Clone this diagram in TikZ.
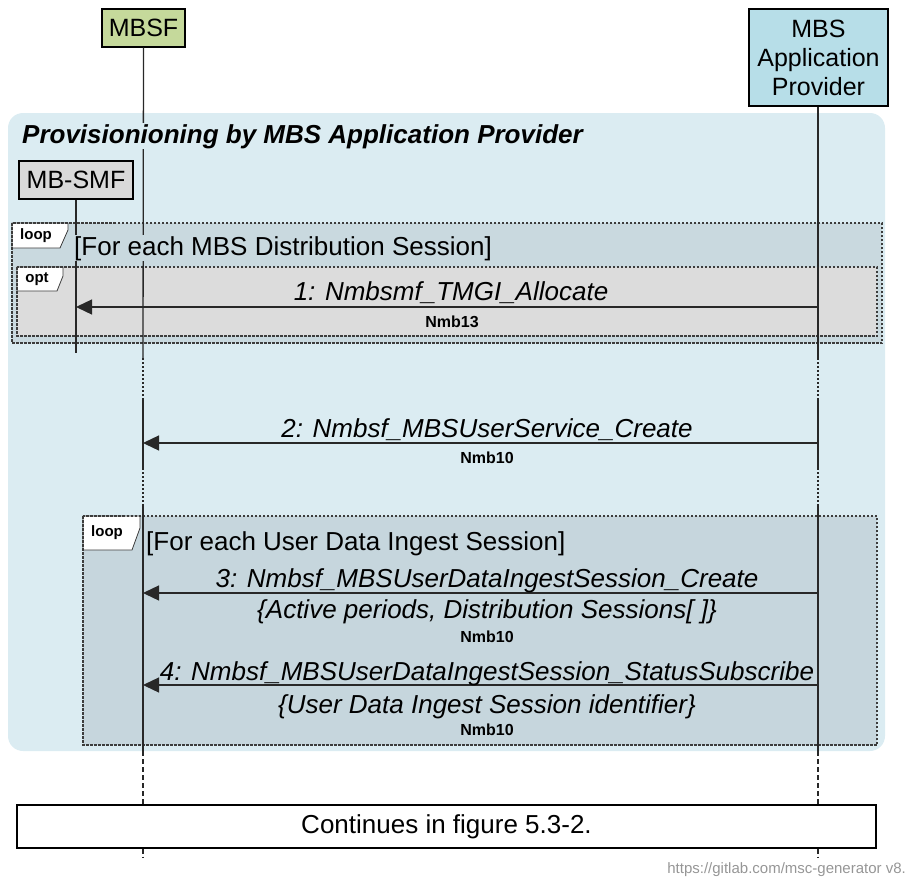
\documentclass[tikz,border=0pt]{standalone}
\usepackage{fontspec}
\setmainfont{Liberation Sans}
\usetikzlibrary{arrows.meta}
\definecolor{grpfill}{RGB}{219,236,242}
\definecolor{loopfill}{RGB}{201,217,223}
\definecolor{loopfillb}{RGB}{198,214,221}
\definecolor{optfill}{RGB}{220,220,220}
\definecolor{mbsffill}{RGB}{197,217,155}
\definecolor{provfill}{RGB}{183,222,232}
\definecolor{smffill}{RGB}{217,217,217}
\definecolor{linecol}{RGB}{40,40,40}
\definecolor{framecol}{RGB}{60,60,60}
\begin{document}
\begin{tikzpicture}[x=1pt,y=-1pt,
  entity/.style={draw=black, line width=1.2pt, inner sep=0pt, align=center,
    font=\fontsize{25}{29}\selectfont},
  life/.style={draw=linecol, line width=1.3pt},
  lifedot/.style={life, dash pattern=on 2pt off 2pt},
  lifedash/.style={life, dash pattern=on 5pt off 3pt},
  frame/.style={draw=framecol, line width=1.2pt, dash pattern=on 2.5pt off 1.5pt},
  tagbox/.style={fill=white, draw=framecol, line width=0.8pt},
  tagtext/.style={font=\fontsize{15}{18}\selectfont\bfseries, inner sep=0pt},
  hdr/.style={font=\fontsize{26}{30}\selectfont, anchor=base west, inner sep=1pt},
  msglabel/.style={font=\fontsize{26}{30}\selectfont\itshape, anchor=base, inner sep=0pt},
  nmb/.style={font=\fontsize{16}{19}\selectfont\bfseries, inner sep=0pt},
  msgarrow/.style={draw=linecol, line width=1.3pt, -{Triangle[length=16pt,width=15pt]}}
]
\useasboundingbox (0,0) rectangle (908,883);

% group background
\fill[grpfill, rounded corners=15pt] (8,113) rectangle (885,751);

% frames (fills)
\fill[loopfill] (12,223) rectangle (882,343);
\fill[optfill] (17,267) rectangle (877,336);
\fill[loopfillb] (83,516) rectangle (877,745);

% frame tags
\draw[tagbox] (12,223) -- (68,223) -- (68,230) -- (60,248) -- (12,248) -- cycle;
\draw[tagbox] (17,267) -- (63,267) -- (63,276) -- (57,291) -- (17,291) -- cycle;
\draw[tagbox] (83,516) -- (140,516) -- (140,528) -- (132,550) -- (83,550) -- cycle;

% frame borders
\draw[frame] (12,223) rectangle (882,343);
\draw[frame] (17,267) rectangle (877,336);
\draw[frame] (83,516) rectangle (877,745);

\node[tagtext] (tagloopa) at (36,236) {loop};
\node[tagtext] (tagopt) at (37,279) {opt};
\node[tagtext] (tagloopb) at (107,533) {loop};

% entities
\node[entity, fill=mbsffill, minimum width=83pt, minimum height=38pt] (mbsf) at (143.5,28) {MBSF};
\node[entity, fill=provfill, minimum width=139pt, minimum height=97pt] (prov) at (818.5,57.5) {MBS\\Application\\Provider};
\node[entity, fill=smffill, minimum width=114pt, minimum height=38pt] (smf) at (76,180) {MB-SMF};

% lifeline coordinates
\coordinate (mA) at (143,358); \coordinate (mB) at (143,400); \coordinate (mC) at (143,468);
\coordinate (mD) at (143,505); \coordinate (mE) at (143,751); \coordinate (mF) at (143,858);
\coordinate (pA) at (818,358); \coordinate (pB) at (818,400); \coordinate (pC) at (818,468);
\coordinate (pD) at (818,505); \coordinate (pE) at (818,751); \coordinate (pF) at (818,858);
\coordinate (sEnd) at (76,353);

% continue box
\node[draw=black, line width=1.2pt, fill=white, minimum width=859pt, minimum height=43pt,
  inner sep=0pt, font=\fontsize{26}{30}\selectfont] (cont) at (446.5,826.5) {Continues in figure 5.3-2.};

% lifelines
\draw[life] (mbsf.south) -- (mA);
\draw[lifedot] (mA) -- (mB);
\draw[life] (mB) -- (mC);
\draw[lifedot] (mC) -- (mD);
\draw[life] (mD) -- (mE);
\draw[lifedash] (mE) -- (mE |- cont.north);
\draw[lifedash] (mE |- cont.south) -- (mF);
\draw[life] (prov.south -| pA) -- (pA);
\draw[lifedot] (pA) -- (pB);
\draw[life] (pB) -- (pC);
\draw[lifedot] (pC) -- (pD);
\draw[life] (pD) -- (pE);
\draw[lifedash] (pE) -- (pE |- cont.north);
\draw[lifedash] (pE |- cont.south) -- (pF);
\draw[life] (smf.south) -- (sEnd);

% title and headers
\node[font=\fontsize{26}{30}\selectfont\bfseries\itshape, anchor=base west, inner sep=1pt, fill=grpfill]
  (title) at (21,143) {Provisionioning by MBS Application Provider};
\node[hdr, fill=loopfill] (hdra) at (73,255) {[For each MBS Distribution Session]};
\node[hdr, fill=loopfillb] (hdrb) at (145,550) {[For each User Data Ingest Session]};

% message 1
\coordinate (p1) at (818,307); \coordinate (s1) at (76,307);
\draw[msgarrow] (p1) -- (s1);
\node[msglabel] (l1) at (451,300) {1: Nmbsmf\_TMGI\_Allocate};
\node[nmb] (n1) at (452,322) {Nmb13};

% message 2
\coordinate (p2) at (818,443); \coordinate (m2) at (143,443);
\draw[msgarrow] (p2) -- (m2);
\node[msglabel] (l2) at (487,437) {2: Nmbsf\_MBSUserService\_Create};
\node[nmb] (n2) at (487,458) {Nmb10};

% message 3
\coordinate (p3) at (818,593); \coordinate (m3) at (143,593);
\draw[msgarrow] (p3) -- (m3);
\node[msglabel] (l3) at (487,587) {3: Nmbsf\_MBSUserDataIngestSession\_Create};
\node[msglabel] (q3) at (487,618) {\{Active periods, Distribution Sessions[ ]\}};
\node[nmb] (n3) at (487,637) {Nmb10};

% message 4
\coordinate (p4) at (818,685); \coordinate (m4) at (143,685);
\draw[msgarrow] (p4) -- (m4);
\node[msglabel] (l4) at (487,680) {4: Nmbsf\_MBSUserDataIngestSession\_StatusSubscribe};
\node[msglabel] (q4) at (487,713) {\{User Data Ingest Session identifier\}};
\node[nmb] (n4) at (487,730) {Nmb10};

% footer
\node[anchor=base east, text={rgb,255:red,150;green,150;blue,150}, font=\fontsize{15}{18}\selectfont, inner sep=0pt]
  (url) at (906,873) {https://gitlab.com/msc-generator v8.};
\end{tikzpicture}
\end{document}
